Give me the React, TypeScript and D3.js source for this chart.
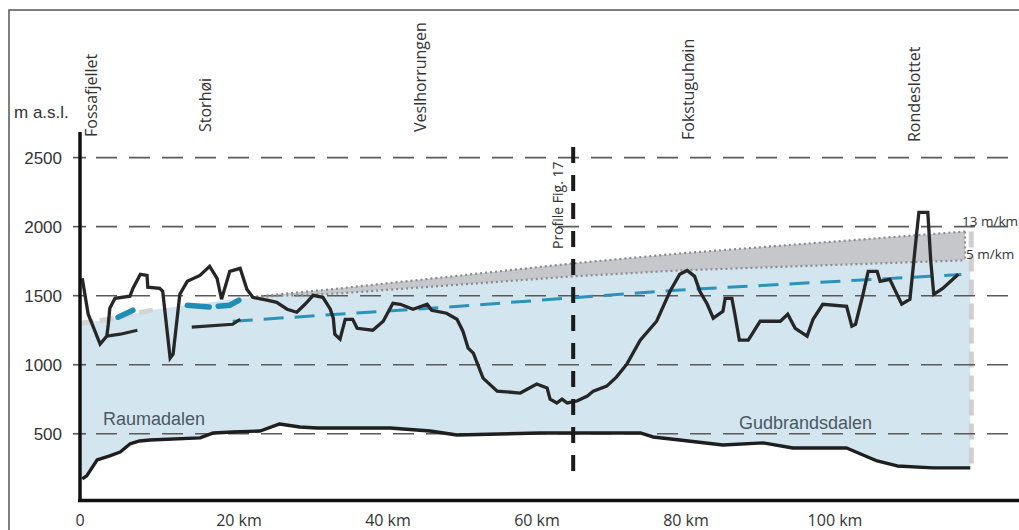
import React from "react";
import * as d3 from "d3";

const W = 1019;
const H = 530;

// y-axis ticks (m a.s.l.)
const yTicks = [500, 1000, 1500, 2000, 2500];
// x-axis ticks (km) and labels
const xTicks = [0, 20, 40, 60, 80, 100];
const xTickLabels = ["0", "20 km", "40 km", "60 km", "80 km", "100 km"];

// summit names and their position along the profile (km)
const peakNames = ["Fossafjellet", "Storhøi", "Veslhorrungen", "Fokstuguhøin", "Rondeslottet"];
const peakKm = [2.3, 17.6, 46.4, 82.4, 112.8];

// upper topographic profile [km, m]
const summitProfile: [number, number][] = [
  [0.3, 1626], [1.1, 1366], [2.7, 1149], [3.6, 1207], [3.8, 1293], [4.0, 1409], [4.7, 1481],
  [6.7, 1496], [7.1, 1553], [8.1, 1655], [9.0, 1647], [9.1, 1561], [10.7, 1553], [11.1, 1532],
  [12.1, 1048], [12.5, 1077], [13.4, 1510], [14.4, 1604], [16.1, 1647], [17.4, 1712], [18.4, 1626],
  [19.0, 1474], [20.1, 1676], [21.5, 1698], [22.4, 1546], [23.2, 1488], [25.1, 1467], [26.4, 1452],
  [27.8, 1402], [29.1, 1380], [30.2, 1438], [31.3, 1503], [32.6, 1488], [33.6, 1402], [34.0, 1337],
  [34.2, 1221], [34.9, 1185], [35.6, 1329], [36.6, 1329], [37.2, 1264], [39.3, 1250], [40.7, 1315],
  [42.0, 1445], [43.0, 1438], [44.7, 1402], [46.6, 1438], [47.2, 1394], [49.2, 1373], [50.6, 1329],
  [51.4, 1243], [52.1, 1120], [52.8, 1084], [54.1, 903], [56.0, 809], [59.1, 795], [61.3, 860],
  [62.7, 831], [63.1, 751], [64.0, 723], [64.7, 751], [65.4, 723], [66.7, 737], [68.1, 773],
  [68.9, 809], [70.7, 845], [72.0, 910], [73.4, 1004], [75.2, 1178], [77.4, 1315], [79.2, 1532],
  [80.5, 1655], [81.5, 1683], [82.5, 1640], [83.2, 1532], [84.2, 1438], [85.0, 1337], [86.3, 1387],
  [86.6, 1481], [87.5, 1481], [87.9, 1366], [88.5, 1178], [89.7, 1178], [91.3, 1315], [94.0, 1315],
  [95.0, 1366], [96.0, 1264], [97.6, 1207], [98.4, 1329], [99.7, 1438], [102.9, 1423], [103.6, 1279],
  [104.1, 1293], [105.1, 1510], [105.8, 1676], [107.0, 1676], [107.4, 1604], [108.7, 1618],
  [110.3, 1438], [111.4, 1474], [112.3, 1951], [112.6, 2103], [113.8, 2103], [114.2, 1749],
  [114.6, 1510], [115.8, 1553], [117.9, 1655],
];

// valley floor profile [km, m]
const valleyFloor: [number, number][] = [
  [0.3, 173], [0.9, 195], [2.3, 311], [4.0, 340], [5.4, 368], [6.7, 426], [8.0, 448], [9.4, 455],
  [16.1, 470], [17.9, 506], [20.5, 513], [24.2, 520], [26.8, 571], [29.5, 549], [31.8, 542],
  [41.6, 542], [47.0, 520], [50.6, 491], [61.7, 506], [75.2, 506], [76.9, 477], [80.5, 455],
  [86.3, 419], [91.7, 434], [95.7, 397], [102.9, 397], [107.0, 303], [109.7, 267], [114.5, 253],
  [119.5, 253],
];

// short lower surface fragments [km, m]
const lowerSeg1: [number, number][] = [[3.6, 1207], [5.4, 1221], [7.7, 1250]];
const lowerSeg2: [number, number][] = [[15.0, 1272], [20.5, 1293], [21.5, 1329]];

// thick teal dashed fragments [km, m]
const tealSegA: [number, number][] = [[5.1, 1344], [7.1, 1395]];
const tealSegB: [number, number][] = [[14.4, 1431], [17.4, 1417], [20.1, 1431], [21.8, 1481]];
// thin teal dashed surface [km, m]
const tealLine: [number, number][] = [[20.5, 1315], [50, 1420], [66.2, 1485], [80, 1540], [118.3, 1653]];

// grey gradient band (13 m/km upper, 5 m/km lower)
const bandKm = [23, 34.9, 66.2, 80.5, 118.8];
const bandUpper = [1490, 1553, 1734, 1806, 1965];
const bandLower = [1490, 1517, 1640, 1683, 1756];

// left part of the blue fill top [km, m]
const fillTopLeft: [number, number][] = [[0, 1300], [3, 1322], [10, 1400]];
const fillRightKm = 119.5;
const fillRightElev = 1758;
const floorStartElev = 160;

const profileFigKm = 66.2;

export default function App() {
  const x = d3.scaleLinear().domain([0, 120]).range([80, 974]);
  const y = d3.scaleLinear().domain([0, 2500]).range([502.8, 157.6]);

  const line = d3
    .line<[number, number]>()
    .x((d) => x(d[0]))
    .y((d) => y(d[1]));

  const bandData = bandKm.map((k, i) => ({ k, u: bandUpper[i], l: bandLower[i] }));
  const bandArea = d3
    .area<{ k: number; u: number; l: number }>()
    .x((d) => x(d.k))
    .y0((d) => y(d.l))
    .y1((d) => y(d.u));

  const fillTop: [number, number][] = [
    ...fillTopLeft,
    ...bandKm.map((k, i) => [k, bandLower[i]] as [number, number]),
    [fillRightKm, fillRightElev],
  ];
  const fillBottom: [number, number][] = [[0, floorStartElev], ...valleyFloor];
  const fillPoly = line([...fillTop, ...fillBottom.slice().reverse()]) + "Z";

  const upperPts = bandData.map((d) => [d.k, d.u] as [number, number]);
  const lowerPts = bandData.map((d) => [d.k, d.l] as [number, number]);
  const lastBand = bandData[bandData.length - 1];

  const peakBaseY = [137, 132, 132, 140, 142];

  return (
    <svg width={W} height={H} style={{ display: "block", position: "absolute", left: 0, top: 0, background: "#fff" }}>
      {/* frame */}
      <path d={`M9,${H + 5} L9,10 L${W + 5},10`} fill="none" stroke="#555" strokeWidth={1.5} />

      {/* blue fill */}
      <path d={fillPoly} fill="#d3e5ef" stroke="none" />
      {/* grey gradient band */}
      <path d={bandArea(bandData) || ""} fill="#c6c7cb" stroke="none" />

      {/* right edge light grey dashes */}
      <line
        x1={x(fillRightKm) + 1}
        x2={x(fillRightKm) + 1}
        y1={y(bandUpper[bandUpper.length - 1])}
        y2={y(valleyFloor[valleyFloor.length - 1][1])}
        stroke="#cfcfcf"
        strokeWidth={5}
        strokeDasharray="16 8"
      />

      {/* gridlines */}
      {yTicks.map((t) => (
        <line key={"g" + t} x1={96} x2={1012} y1={y(t)} y2={y(t)} stroke="#5a5a5a" strokeWidth={1.6} strokeDasharray="21 12" />
      ))}
      {/* ticks */}
      {yTicks.map((t) => (
        <line key={"t" + t} x1={73} x2={86} y1={y(t)} y2={y(t)} stroke="#555" strokeWidth={1.6} />
      ))}

      {/* dotted borders of band */}
      <path d={line(upperPts) || ""} fill="none" stroke="#8a8a8e" strokeWidth={2.2} strokeDasharray="2 3" />
      <path d={line(lowerPts) || ""} fill="none" stroke="#8a8a8e" strokeWidth={2.2} strokeDasharray="2 3" />
      <line
        x1={x(lastBand.k)}
        x2={x(lastBand.k)}
        y1={y(lastBand.u)}
        y2={y(lastBand.l)}
        stroke="#8a8a8e"
        strokeWidth={2}
        strokeDasharray="2 3"
      />

      {/* light grey dashed along fill top at left */}
      <path d={line(fillTopLeft.slice(0)) || ""} fill="none" stroke="#d4d4d4" strokeWidth={5} strokeDasharray="14 6" />

      {/* teal surfaces */}
      <path d={line(tealLine) || ""} fill="none" stroke="#2a93b9" strokeWidth={3} strokeDasharray="20 11" />
      <path d={line(tealSegA) || ""} fill="none" stroke="#1f8db5" strokeWidth={5.5} strokeDasharray="20 8" strokeLinecap="round" />
      <path d={line(tealSegB) || ""} fill="none" stroke="#1f8db5" strokeWidth={5.5} strokeDasharray="22 9" strokeLinecap="round" />

      {/* black profiles */}
      <path d={line(lowerSeg1) || ""} fill="none" stroke="#2a2a2a" strokeWidth={3.2} />
      <path d={line(lowerSeg2) || ""} fill="none" stroke="#2a2a2a" strokeWidth={3.2} />
      <path d={line(valleyFloor) || ""} fill="none" stroke="#1e1e1e" strokeWidth={3.4} strokeLinejoin="round" />
      <path d={line(summitProfile) || ""} fill="none" stroke="#262626" strokeWidth={3.3} strokeLinejoin="miter" />

      {/* Profile Fig. 17 line */}
      <line
        x1={x(profileFigKm)}
        x2={x(profileFigKm)}
        y1={147}
        y2={478}
        stroke="#1a1a1a"
        strokeWidth={4}
        strokeDasharray="16 12"
      />
      <text
        transform={`translate(${x(profileFigKm) - 10},249) rotate(-90)`}
        fontFamily="'Open Sans', sans-serif"
        fontSize={14}
        fill="#333"
      >
        Profile Fig. 17
      </text>

      {/* axes */}
      <line x1={x(0)} x2={x(0)} y1={132} y2={502} stroke="#111" strokeWidth={3.5} />
      <line x1={78} x2={W} y1={500.5} y2={500.5} stroke="#111" strokeWidth={3.5} />

      {/* y labels */}
      {yTicks.map((t) => (
        <text
          key={"yl" + t}
          x={62}
          y={y(t) + 6}
          textAnchor="end"
          fontFamily="'Liberation Sans', Arial, sans-serif"
          fontSize={17}
          fill="#333"
        >
          {t}
        </text>
      ))}
      <text x={14} y={118} fontFamily="'Liberation Sans', Arial, sans-serif" fontSize={17} fill="#333">
        m a.s.l.
      </text>

      {/* x labels */}
      {xTicks.map((t, i) => (
        <text
          key={"xl" + t}
          x={x(t) + (t === 0 ? 0 : 10)}
          y={526}
          textAnchor="middle"
          fontFamily="'Open Sans', sans-serif"
          fontSize={16}
          fill="#333"
        >
          {xTickLabels[i]}
        </text>
      ))}

      {/* summit names */}
      {peakNames.map((n, i) => (
        <text
          key={n}
          transform={`translate(${x(peakKm[i])},${peakBaseY[i]}) rotate(-90)`}
          fontFamily="'Open Sans', sans-serif"
          fontSize={16}
          fill="#333"
        >
          {n}
        </text>
      ))}

      {/* valley names */}
      <text x={103} y={425} fontFamily="'Liberation Sans', Arial, sans-serif" fontSize={18} fill="#4b5864">
        Raumadalen
      </text>
      <text x={739} y={429} fontFamily="'Liberation Sans', Arial, sans-serif" fontSize={18} fill="#4b5864">
        Gudbrandsdalen
      </text>

      {/* gradient labels */}
      <text x={962} y={226} fontFamily="'Open Sans', sans-serif" fontSize={13.5} fill="#333">
        13 m/km
      </text>
      <text x={966} y={259} fontFamily="'Open Sans', sans-serif" fontSize={13.5} fill="#333">
        5 m/km
      </text>
    </svg>
  );
}
